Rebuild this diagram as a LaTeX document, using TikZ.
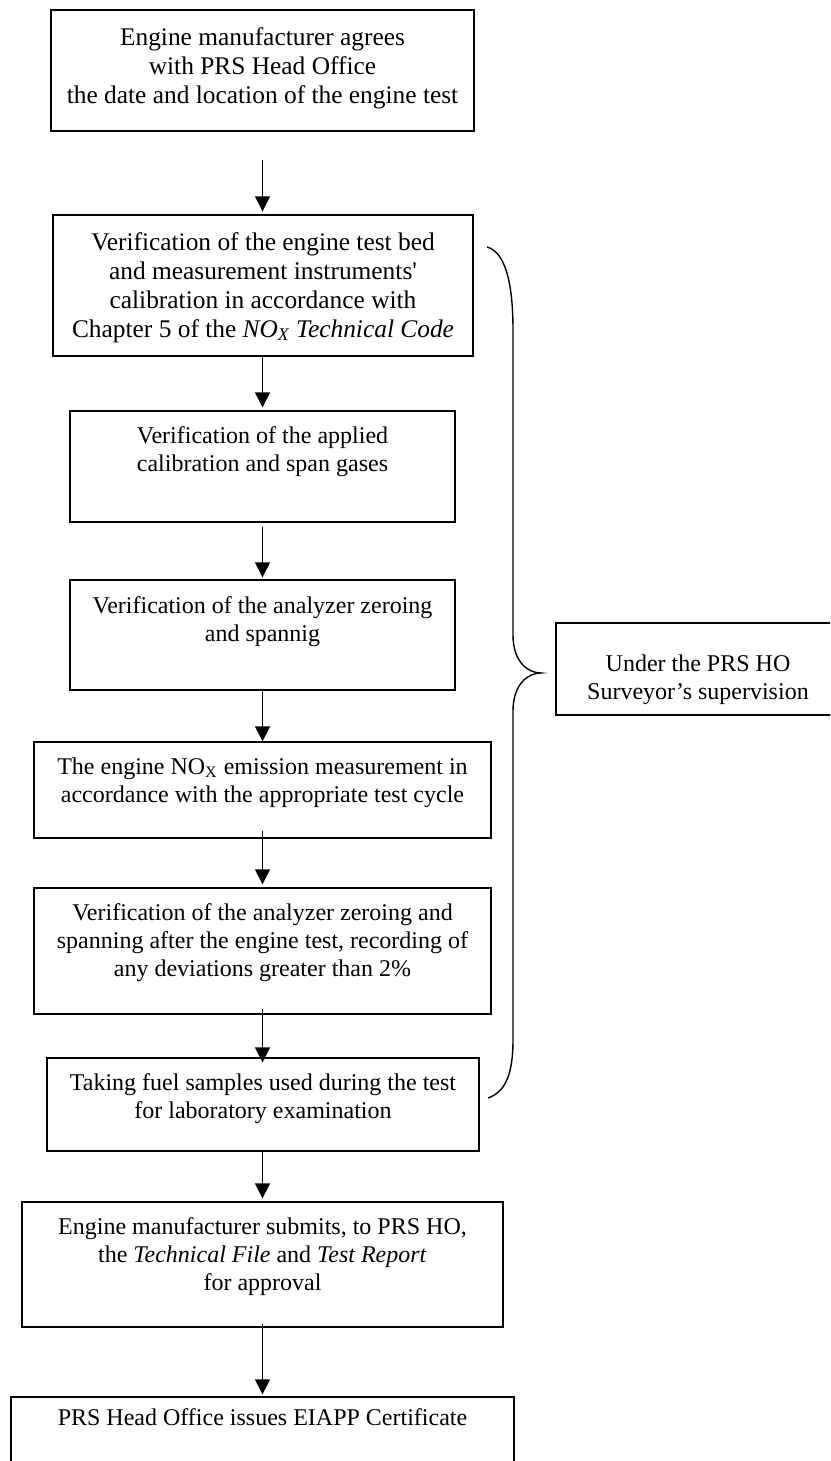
\documentclass[tikz,border=0pt]{standalone}
\usepackage{fontspec}
\setmainfont{Liberation Serif}
\usetikzlibrary{arrows.meta,fit}
\begin{document}
\begin{tikzpicture}[x=0.5pt,y=-0.5pt,
  box/.style={draw, line width=0.7pt, inner sep=0pt, fit={#1}},
  txt/.style={align=center, inner sep=0pt, anchor=north, font=\fontsize{12}{14}\selectfont},
  txtc/.style={align=center, inner sep=0pt, anchor=north, font=\fontsize{12.7}{14.5}\selectfont},
  arr/.style={-{Triangle[length=7.5pt,width=7.5pt]}, line width=0.75pt},
  brace/.style={line width=0.7pt}]
\useasboundingbox (0,0) rectangle (830,1461);
\clip (0,0) rectangle (830,1461);
% boxes
\node[box={(51,10)(474,131)}] (b1) {};
\node[box={(53,215)(473,356)}] (b2) {};
\node[box={(70,411)(455,522)}] (b3) {};
\node[box={(70,580)(455,690)}] (b4) {};
\node[box={(34,742)(491,838)}] (b5) {};
\node[box={(34,888)(491,1014)}] (b6) {};
\node[box={(47,1058)(479,1151)}] (b7) {};
\node[box={(22,1202)(503,1327)}] (b8) {};
\node[box={(11,1397)(514,1480)}] (b9) {};
\node[box={(556,623)(842,715)}] (rb) {};
% texts
\node[txtc] (t1) at (262.5,27) {Engine manufacturer agrees\\with PRS Head Office\\the date and location of the engine test};
\node[txtc] (t2) at (263,232) {Verification of the engine test bed\\and measurement instruments\textquotesingle\\calibration in accordance with\\Chapter 5 of the \textit{NO\textsubscript{X} Technical Code}};
\node[txt] (t3) at (262.5,426) {Verification of the applied\\calibration and span gases};
\node[txt] (t4) at (262.5,596) {Verification of the analyzer zeroing\\and spannig};
\node[txt] (t5) at (262.5,757) {The engine NO\textsubscript{X} emission measurement in\\accordance with the appropriate test cycle};
\node[txt] (t6) at (262.5,903) {Verification of the analyzer zeroing and\\spanning after the engine test, recording of\\any deviations greater than 2\%};
\node[txt] (t7) at (263,1073) {Taking fuel samples used during the test\\for laboratory examination};
\node[txt] (t8) at (262.5,1217) {Engine manufacturer submits, to PRS HO,\\the \textit{Technical File} and \textit{Test Report}\\for approval};
\node[txt] (t9) at (262.5,1408) {PRS Head Office issues EIAPP Certificate};
\node[txt] (tr) at (698,654) {Under the PRS HO\\Surveyor’s supervision};
% arrows (kept vertical)
\draw[arr] ([yshift=-14pt]b1.south) -- ([yshift=1.5pt]b1.south |- b2.north);
\draw[arr] (b1.south |- b2.south) -- ([yshift=1.5pt]b1.south |- b3.north);
\draw[arr] ([yshift=-2pt]b1.south |- b3.south) -- ([yshift=1pt]b1.south |- b4.north);
\draw[arr] (b1.south |- b4.south) -- (b1.south |- b5.north);
\draw[arr] ([yshift=4pt]b1.south |- b5.south) -- ([yshift=1.5pt]b1.south |- b6.north);
\draw[arr] ([yshift=3pt]b1.south |- b6.south) -- ([yshift=-2.5pt]b1.south |- b7.north);
\draw[arr] (b1.south |- b7.south) -- ([yshift=1.5pt]b1.south |- b8.north);
\draw[arr] ([yshift=2pt]b1.south |- b8.south) -- ([yshift=1pt]b1.south |- b9.north);
% brace
\coordinate (bt) at (487,247);
\coordinate (bm) at (541,673);
\coordinate (bb) at (488,1098);
\draw[brace] (bt) .. controls (505,252) and (513,282) .. (513,330) -- (513,635)
  .. controls (513,662) and (528,673) .. (bm)
  .. controls (528,673) and (513,684) .. (513,711) -- (513,1040)
  .. controls (513,1075) and (505,1092) .. (bb);
\end{tikzpicture}
\end{document}
